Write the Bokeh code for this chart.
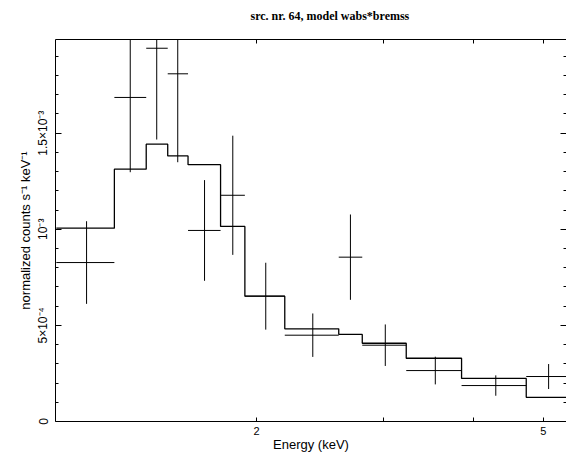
import numpy as np
from bokeh.plotting import figure
from bokeh.models import Range1d, FixedTicker, LogAxis, LinearAxis, Title
from bokeh.embed import file_html
from bokeh.resources import INLINE

# ---- data ----
bin_lo = [1.055, 1.270, 1.406, 1.506, 1.607, 1.783, 1.927, 2.189, 2.601, 2.804, 3.227, 3.851, 4.735]
bin_hi = [1.270, 1.406, 1.506, 1.607, 1.783, 1.927, 2.189, 2.601, 2.804, 3.227, 3.851, 4.735, 5.440]
energy = [1.162, 1.336, 1.454, 1.555, 1.694, 1.854, 2.060, 2.394, 2.700, 3.018, 3.541, 4.296, 5.086]
counts = [8.27e-4, 1.686e-3, 1.942e-3, 1.809e-3, 9.94e-4, 1.177e-3, 6.52e-4,
          4.49e-4, 8.55e-4, 3.97e-4, 2.65e-4, 1.87e-4, 2.34e-4]
count_err = [2.15e-4, 3.89e-4, 4.75e-4, 4.60e-4, 2.62e-4, 3.10e-4, 1.74e-4,
             1.13e-4, 2.22e-4, 1.08e-4, 7.2e-5, 5.3e-5, 6.5e-5]
model = [1.006e-3, 1.313e-3, 1.443e-3, 1.382e-3, 1.336e-3, 1.015e-3, 6.52e-4,
         4.82e-4, 4.53e-4, 4.07e-4, 3.29e-4, 2.24e-4, 1.26e-4]

x_ticks = [2, 3, 4, 5]
x_tick_labels = {2: "2", 3: "", 4: "", 5: "5"}
y_ticks = [0, 5e-4, 1e-3, 1.5e-3]
y_minor = [1e-4, 2e-4, 3e-4, 4e-4, 6e-4, 7e-4, 8e-4, 9e-4, 1.1e-3, 1.2e-3,
           1.3e-3, 1.4e-3, 1.6e-3, 1.7e-3, 1.8e-3, 1.9e-3]
y_tick_labels = {0: "0", 5e-4: "5\u00d710\u207b\u2074", 1e-3: "10\u207b\u00b3",
                 1.5e-3: "1.5\u00d710\u207b\u00b3"}

title_text = "src. nr. 64, model wabs*bremss"
x_label = "Energy (keV)"
y_label = "normalized counts s\u207b\u00b9 keV\u207b\u00b9"

# ---- figure ----
p = figure(width=566, height=454, x_axis_type="log",
           x_range=Range1d(1.0522, 5.385), y_range=Range1d(0, 1.9875e-3),
           output_backend="svg", toolbar_location=None,
           min_border_left=55, min_border_right=0, min_border_top=39, min_border_bottom=33)
p.grid.visible = False
p.outline_line_color = None
p.background_fill_color = "white"
p.border_fill_color = "white"
p.title.text = ""

xt = FixedTicker(ticks=x_ticks, minor_ticks=[])
yt = FixedTicker(ticks=y_ticks, minor_ticks=y_minor)

def style_axis(ax, ticker, major_in, minor_in):
    ax.ticker = ticker
    ax.axis_line_color = "black"
    ax.axis_line_width = 1
    ax.major_tick_line_color = "black"
    ax.minor_tick_line_color = "black"
    ax.major_tick_in = major_in
    ax.major_tick_out = 0
    ax.minor_tick_in = minor_in
    ax.minor_tick_out = 0

xa = p.xaxis[0]
style_axis(xa, xt, 4, 0)
xa.major_label_overrides = x_tick_labels
xa.major_label_text_font = "Liberation Sans"
xa.major_label_text_font_size = "11px"
xa.major_label_text_color = "black"
xa.major_label_standoff = 5
xa.axis_label = x_label
xa.axis_label_text_font = "Liberation Sans"
xa.axis_label_text_font_size = "13px"
xa.axis_label_text_font_style = "normal"
xa.axis_label_text_color = "black"
xa.axis_label_standoff = -1

ya = p.yaxis[0]
style_axis(ya, yt, 6, 3)
ya.major_label_overrides = y_tick_labels
ya.major_label_orientation = "vertical"
ya.major_label_text_font = "Liberation Sans"
ya.major_label_text_font_size = "12px"
ya.major_label_text_color = "black"
ya.major_label_standoff = 5
ya.axis_label = y_label
ya.axis_label_text_font = "Liberation Sans"
ya.axis_label_text_font_size = "13px"
ya.axis_label_text_font_style = "normal"
ya.axis_label_text_color = "black"
ya.axis_label_standoff = 1

top = LogAxis()
style_axis(top, xt, 4, 0)
top.major_label_overrides = {2: "", 3: "", 4: "", 5: ""}
top.major_label_standoff = 0
p.add_layout(top, "above")

right = LinearAxis()
style_axis(right, yt, 6, 3)
right.axis_line_color = None
right.major_label_overrides = {0: "", 5e-4: "", 1e-3: "", 1.5e-3: ""}
right.major_label_standoff = 0
p.add_layout(right, "right")

# blank spacer between the top axis and the title
p.add_layout(Title(text=" ", standoff=14, text_font_size="1px"), "above")
p.add_layout(Title(text=title_text, align="left", offset=195, standoff=0,
                   vertical_align="bottom",
                   text_font="Liberation Serif", text_font_size="12px",
                   text_font_style="bold", text_color="black"), "above")

# ---- data crosses ----
c = np.array(counts)
e = np.array(count_err)
p.segment(x0=bin_lo, x1=bin_hi, y0=counts, y1=counts, line_color="black", line_width=1)
p.segment(x0=energy, x1=energy, y0=c - e, y1=c + e, line_color="black", line_width=1)

# ---- model step ----
p.step(x=bin_lo + [bin_hi[-1]], y=model + [model[-1]], mode="after",
       line_color="black", line_width=1.3)

open("out.html", "w").write(file_html(p, INLINE))
